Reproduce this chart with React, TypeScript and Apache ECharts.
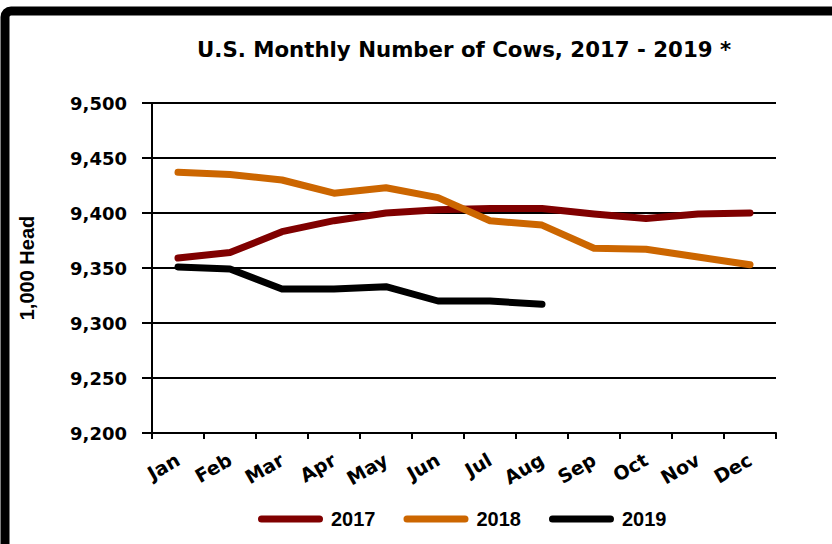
import React, { useEffect, useRef } from "react";
import * as echarts from "echarts";

const months = ["Jan", "Feb", "Mar", "Apr", "May", "Jun", "Jul", "Aug", "Sep", "Oct", "Nov", "Dec"];
const cows2017 = [9359, 9364, 9383, 9393, 9400, 9403, 9404, 9404, 9399, 9395, 9399, 9400];
const cows2018 = [9437, 9435, 9430, 9418, 9423, 9414, 9393, 9389, 9368, 9367, 9360, 9353];
const cows2019 = [9351, 9349, 9331, 9331, 9333, 9320, 9320, 9317];
const seriesNames = ["2017", "2018", "2019"];
const seriesColors = ["#800000", "#CC6600", "#000000"];

const stadiumIcon = "path://M3.5,0 L61.5,0 A3.5,3.5 0 0 1 61.5,7 L3.5,7 A3.5,3.5 0 0 1 3.5,0 Z";

export default function App() {
  const ref = useRef<HTMLDivElement>(null);
  useEffect(() => {
    if (!ref.current) return;
    const chart = echarts.init(ref.current, undefined, { renderer: "svg" });
    const dataSets = [cows2017, cows2018, cows2019];
    chart.setOption({
      animation: false,
      backgroundColor: "#ffffff",
      title: {
        text: "U.S. Monthly Number of Cows, 2017 - 2019 *",
        left: 192,
        top: 34,
        textStyle: { fontFamily: "DejaVu Sans", fontWeight: "bold", fontSize: 21.3, color: "#000" },
      },
      graphic: [
        {
          type: "rect",
          shape: { x: 5, y: 11, width: 1000, height: 1000, r: 6 },
          style: { fill: "transparent", stroke: "#000", lineWidth: 9 },
          silent: true,
        },
      ],
      legend: {
        left: 258,
        top: 509,
        padding: 0,
        itemWidth: 65,
        itemHeight: 7,
        itemGap: 28,
        icon: stadiumIcon,
        data: seriesNames.map((n) => ({ name: n, icon: stadiumIcon })),
        textStyle: { fontFamily: "Liberation Sans", fontWeight: "bold", fontSize: 20, color: "#000", padding: [0, 0, 0, 3] },
      },
      grid: { left: 152, top: 103, right: 56, bottom: 111 },
      xAxis: {
        type: "category",
        data: months,
        boundaryGap: true,
        axisLine: { lineStyle: { color: "#000", width: 2 } },
        axisTick: { show: true, length: 6, lineStyle: { color: "#000", width: 2 } },
        axisLabel: {
          rotate: 30,
          margin: 25,
          color: "#000",
          fontFamily: "DejaVu Sans",
          fontWeight: "bold",
          fontSize: 19,
          interval: 0,
        },
        splitLine: { show: false },
      },
      yAxis: {
        type: "value",
        min: 9200,
        max: 9500,
        interval: 50,
        name: "1,000 Head",
        nameLocation: "middle",
        nameGap: 115,
        nameTextStyle: { fontFamily: "Liberation Sans", fontWeight: "bold", fontSize: 20, color: "#000" },
        axisLine: { show: true, lineStyle: { color: "#000", width: 2 } },
        axisTick: { show: true, length: 10, lineStyle: { color: "#000", width: 2 } },
        axisLabel: {
          margin: 25,
          color: "#000",
          fontFamily: "DejaVu Sans",
          fontWeight: "bold",
          fontSize: 18,
          formatter: (v: number) => v.toLocaleString("en-US"),
        },
        splitLine: { show: true, lineStyle: { color: "#000", width: 2 } },
      },
      series: dataSets.map((d, i) => ({
        name: seriesNames[i],
        type: "line",
        data: d,
        symbol: "none",
        showSymbol: false,
        color: seriesColors[i],
        itemStyle: { color: seriesColors[i] },
        lineStyle: { color: seriesColors[i], width: 7, cap: "round", join: "round" },
      })),
    });
    return () => chart.dispose();
  }, []);
  return <div ref={ref} style={{ position: "fixed", left: 0, top: 0, width: 832, height: 544 }} />;
}
